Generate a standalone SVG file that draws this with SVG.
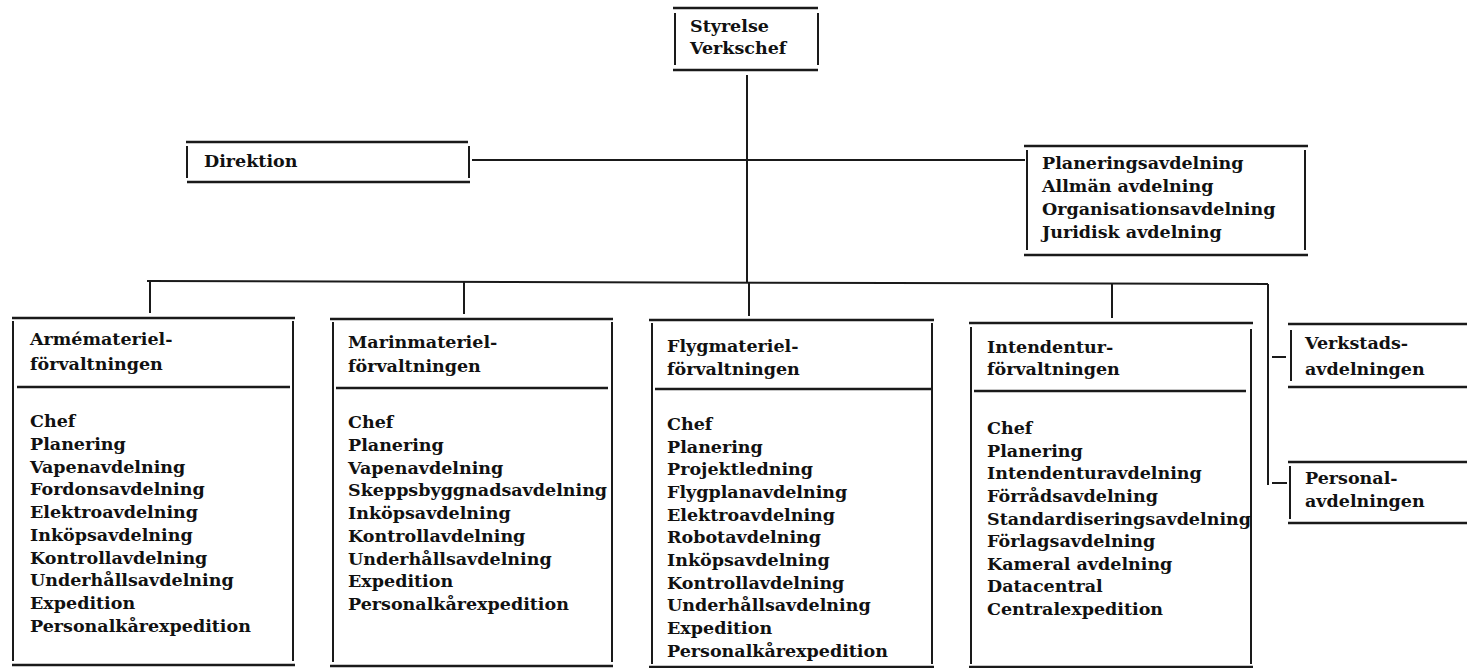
<svg xmlns="http://www.w3.org/2000/svg" width="1467" height="668" viewBox="0 0 1467 668">
<style>
  .h { stroke:#1a1a1a; stroke-width:2.6; fill:none; }
  .v { stroke:#1a1a1a; stroke-width:2; fill:none; }
  .c { stroke:#1a1a1a; stroke-width:2; fill:none; }
  text { font-family:"DejaVu Serif","Liberation Serif",serif; font-weight:bold; font-size:17.5px; fill:#111; }
</style>
<rect width="1467" height="668" fill="#fff"/>
<g id="connectors">
  <path class="c" d="M747 75 V283"/>
  <path class="c" d="M472 160 H1025"/>
  <path class="c" d="M147 281 L1268 284"/>
  <path class="c" d="M150 281 V313 M464 282 V314 M749 283 V316 M1112 284 V318"/>
  <path class="c" d="M1268 284 V485"/>
  <path class="c" d="M1272 357 H1286 M1272 483 H1287"/>
</g>
<g id="styrelse">
  <path class="h" d="M673 8 H818 M673 70 H818"/>
  <path class="v" d="M675 13 V65 M818 13 V65"/>
  <text x="690" y="32">Styrelse</text>
  <text x="690" y="54">Verkschef</text>
</g>
<g id="direktion">
  <path class="h" d="M186 142 H468 M187 182 H470"/>
  <path class="v" d="M187 146 V178 M469 146 V178"/>
  <text x="204" y="167">Direktion</text>
</g>
<g id="stab">
  <path class="h" d="M1024 146 H1308 M1024 255 H1308"/>
  <path class="v" d="M1027 150 V250 M1305 150 V250"/>
  <text x="1042" y="169">Planeringsavdelning</text>
  <text x="1042" y="192">Allmän avdelning</text>
  <text x="1042" y="215">Organisationsavdelning</text>
  <text x="1042" y="238">Juridisk avdelning</text>
</g>
<g id="arme">
  <path class="h" d="M12 318 H295 M17 387 H290 M12 665 H295"/>
  <path class="v" d="M13 321 V661 M293 321 V661"/>
  <text x="30" y="345">Armémateriel-</text>
  <text x="30" y="370">förvaltningen</text>
  <text x="30" y="427">Chef</text>
  <text x="30" y="450">Planering</text>
  <text x="30" y="473">Vapenavdelning</text>
  <text x="30" y="495">Fordonsavdelning</text>
  <text x="30" y="518">Elektroavdelning</text>
  <text x="30" y="541">Inköpsavdelning</text>
  <text x="30" y="564">Kontrollavdelning</text>
  <text x="30" y="586">Underhållsavdelning</text>
  <text x="30" y="609">Expedition</text>
  <text x="30" y="632">Personalkårexpedition</text>
</g>
<g id="marin">
  <path class="h" d="M330 319 H613 M336 388 H608 M330 666 H613"/>
  <path class="v" d="M333 322 V662 M612 322 V662"/>
  <text x="348" y="348">Marinmateriel-</text>
  <text x="348" y="372">förvaltningen</text>
  <text x="348" y="428">Chef</text>
  <text x="348" y="451">Planering</text>
  <text x="348" y="474">Vapenavdelning</text>
  <text x="348" y="496">Skeppsbyggnadsavdelning</text>
  <text x="348" y="519">Inköpsavdelning</text>
  <text x="348" y="542">Kontrollavdelning</text>
  <text x="348" y="565">Underhållsavdelning</text>
  <text x="348" y="587">Expedition</text>
  <text x="348" y="610">Personalkårexpedition</text>
</g>
<g id="flyg">
  <path class="h" d="M649 320 H934 M655 389 H932 M649 667 H934"/>
  <path class="v" d="M652 323 V664 M932 323 V664"/>
  <text x="667" y="352">Flygmateriel-</text>
  <text x="667" y="375">förvaltningen</text>
  <text x="667" y="430">Chef</text>
  <text x="667" y="453">Planering</text>
  <text x="667" y="475">Projektledning</text>
  <text x="667" y="498">Flygplanavdelning</text>
  <text x="667" y="521">Elektroavdelning</text>
  <text x="667" y="543">Robotavdelning</text>
  <text x="667" y="566">Inköpsavdelning</text>
  <text x="667" y="589">Kontrollavdelning</text>
  <text x="667" y="611">Underhållsavdelning</text>
  <text x="667" y="634">Expedition</text>
  <text x="667" y="657">Personalkårexpedition</text>
</g>
<g id="intendentur">
  <path class="h" d="M969 323 H1253 M974 391 H1246 M969 667 H1253"/>
  <path class="v" d="M971 327 V664 M1251 329 V664"/>
  <text x="987" y="353">Intendentur-</text>
  <text x="987" y="375">förvaltningen</text>
  <text x="987" y="434">Chef</text>
  <text x="987" y="457">Planering</text>
  <text x="987" y="479">Intendenturavdelning</text>
  <text x="987" y="502">Förrådsavdelning</text>
  <text x="987" y="525">Standardiseringsavdelning</text>
  <text x="987" y="547">Förlagsavdelning</text>
  <text x="987" y="570">Kameral avdelning</text>
  <text x="987" y="592">Datacentral</text>
  <text x="987" y="615">Centralexpedition</text>
</g>
<g id="verkstad">
  <path class="h" d="M1288 324 H1467 M1288 387 H1467"/>
  <path class="v" d="M1291 330 V381"/>
  <text x="1305" y="349">Verkstads-</text>
  <text x="1305" y="375">avdelningen</text>
</g>
<g id="personal">
  <path class="h" d="M1288 462 H1467 M1288 523 H1467"/>
  <path class="v" d="M1290 466 V519"/>
  <text x="1305" y="484">Personal-</text>
  <text x="1305" y="507">avdelningen</text>
</g>
</svg>
